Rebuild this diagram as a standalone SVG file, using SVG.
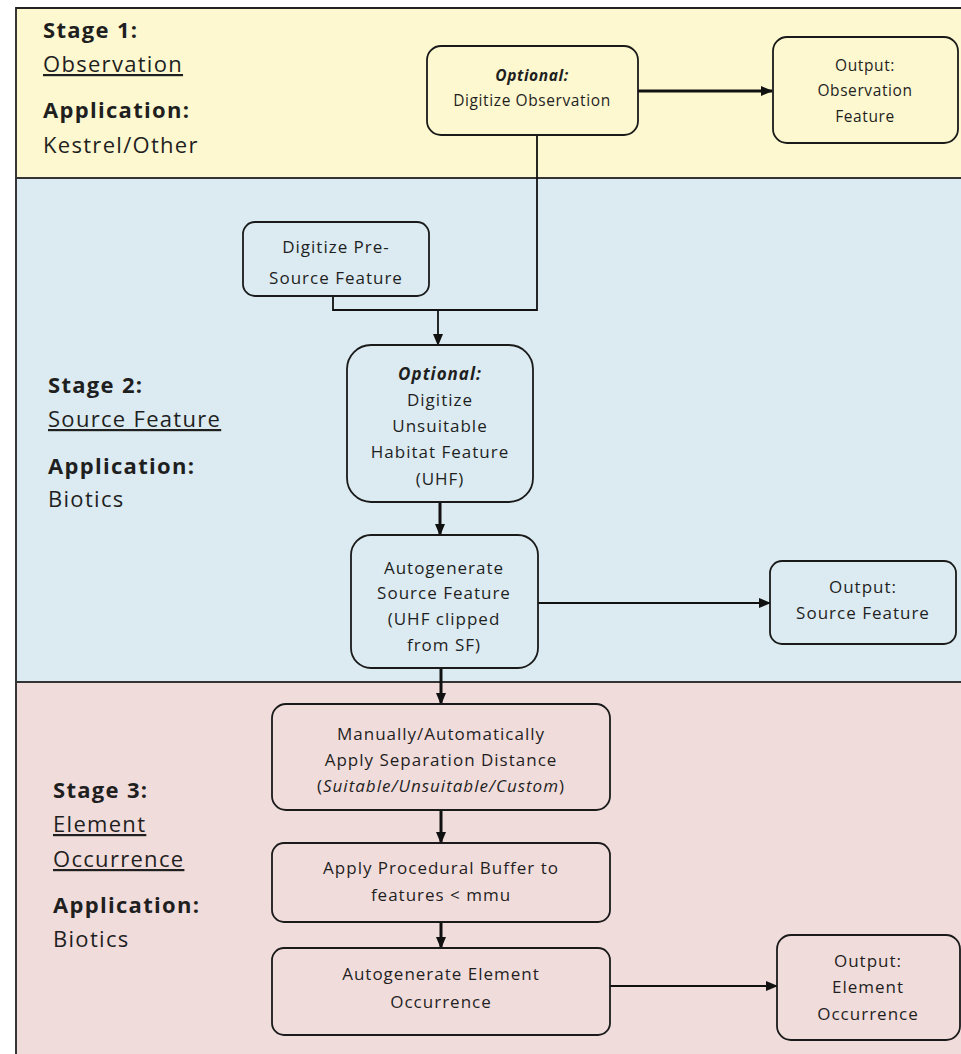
<svg xmlns="http://www.w3.org/2000/svg" width="961" height="1054" viewBox="0 0 961 1054">
<defs>
<style>
.box{stroke:#1a1a1a;stroke-width:1.8}
.s1{fill:#fdf8cf}
.s2{fill:#dbebf1}
.s3{fill:#f1dcdc}
.t{font-family:"Open Sans","Liberation Sans",Arial,sans-serif;font-size:17px;letter-spacing:1px;fill:#1f1f1f;text-anchor:middle}
.t1{font-size:15.5px;letter-spacing:0.6px}
.lab{font-family:"Open Sans","Liberation Sans",Arial,sans-serif;font-size:22px;letter-spacing:1.3px;fill:#1f1f1f}
.b{font-weight:bold}
.i{font-style:italic}
.c{stroke:#111;fill:none}
</style>
<marker id="ah" viewBox="0 0 12 10" refX="11" refY="5" markerWidth="12" markerHeight="10" orient="auto" markerUnits="userSpaceOnUse">
<path d="M0,0 L12,5 L0,10 z" fill="#111"/>
</marker>
</defs>
<rect width="961" height="1054" fill="#ffffff"/>
<g id="bands">
<rect x="16" y="8" width="950" height="170" fill="#fdf8cf"/>
<rect x="16" y="178" width="950" height="504" fill="#dbebf1"/>
<rect x="16" y="682" width="950" height="380" fill="#f1dcdc"/>
<path d="M961,8 H16 V1054" stroke="#222" stroke-width="1.8" fill="none"/>
<line x1="16" y1="178" x2="961" y2="178" stroke="#333" stroke-width="1.8"/>
<line x1="16" y1="682" x2="961" y2="682" stroke="#333" stroke-width="1.8"/>
</g>
<g id="labels">
<text class="lab b" x="43" y="38">Stage 1:</text>
<text class="lab" x="43" y="72" text-decoration="underline">Observation</text>
<text class="lab b" x="43" y="118">Application:</text>
<text class="lab" x="43" y="153">Kestrel/Other</text>
<text class="lab b" x="48" y="393">Stage 2:</text>
<text class="lab" x="48" y="427" text-decoration="underline">Source Feature</text>
<text class="lab b" x="48" y="474">Application:</text>
<text class="lab" x="48" y="507">Biotics</text>
<text class="lab b" x="53" y="798">Stage 3:</text>
<text class="lab" x="53" y="832" text-decoration="underline">Element</text>
<text class="lab" x="53" y="867" text-decoration="underline">Occurrence</text>
<text class="lab b" x="53" y="913">Application:</text>
<text class="lab" x="53" y="947">Biotics</text>
</g>
<g id="connectors">
<line class="c" x1="638" y1="91" x2="772" y2="91" stroke-width="3" marker-end="url(#ah)"/>
<polyline class="c" points="537,135 537,310 333,310 333,296" stroke-width="1.8"/>
<line class="c" x1="438" y1="310" x2="438" y2="345" stroke-width="1.8" marker-end="url(#ah)"/>
<line class="c" x1="440" y1="502" x2="440" y2="535" stroke-width="3" marker-end="url(#ah)"/>
<line class="c" x1="538" y1="603" x2="770" y2="603" stroke-width="1.8" marker-end="url(#ah)"/>
<line class="c" x1="441" y1="668" x2="441" y2="704" stroke-width="3" marker-end="url(#ah)"/>
<line class="c" x1="441" y1="810" x2="441" y2="843" stroke-width="3" marker-end="url(#ah)"/>
<line class="c" x1="441" y1="922" x2="441" y2="948" stroke-width="3" marker-end="url(#ah)"/>
<line class="c" x1="610" y1="986" x2="777" y2="986" stroke-width="1.8" marker-end="url(#ah)"/>
</g>
<g id="n-digitize-obs">
<rect class="box s1" x="427" y="46" width="211" height="89" rx="14"/>
<text class="t t1 i b" x="532" y="81">Optional:</text>
<text class="t t1" x="532" y="106">Digitize Observation</text>
</g>
<g id="n-out-obs">
<rect class="box s1" x="773" y="37" width="185" height="106" rx="14"/>
<text class="t t1" x="865" y="71">Output:</text>
<text class="t t1" x="865" y="96">Observation</text>
<text class="t t1" x="865" y="122">Feature</text>
</g>
<g id="n-presource">
<rect class="box s2" x="243" y="222" width="186" height="74" rx="12"/>
<text class="t" x="336" y="253">Digitize Pre-</text>
<text class="t" x="336" y="284">Source Feature</text>
</g>
<g id="n-uhf">
<rect class="box s2" x="347" y="345" width="186" height="157" rx="24"/>
<text class="t i b" x="440" y="380">Optional:</text>
<text class="t" x="440" y="406">Digitize</text>
<text class="t" x="440" y="432">Unsuitable</text>
<text class="t" x="440" y="458">Habitat Feature</text>
<text class="t" x="440" y="485">(UHF)</text>
</g>
<g id="n-autogen-sf">
<rect class="box s2" x="351" y="535" width="187" height="133" rx="20"/>
<text class="t" x="444" y="574">Autogenerate</text>
<text class="t" x="444" y="599">Source Feature</text>
<text class="t" x="444" y="625">(UHF clipped</text>
<text class="t" x="444" y="651">from SF)</text>
</g>
<g id="n-out-sf">
<rect class="box s2" x="770" y="561" width="186" height="83" rx="12"/>
<text class="t" x="863" y="593">Output:</text>
<text class="t" x="863" y="619">Source Feature</text>
</g>
<g id="n-separation">
<rect class="box s3" x="272" y="704" width="338" height="106" rx="14"/>
<text class="t" x="441" y="740">Manually/Automatically</text>
<text class="t" x="441" y="766">Apply Separation Distance</text>
<text class="t" x="441" y="792">(<tspan font-style="italic">Suitable/Unsuitable/Custom</tspan>)</text>
</g>
<g id="n-buffer">
<rect class="box s3" x="272" y="843" width="338" height="79" rx="12"/>
<text class="t" x="441" y="874">Apply Procedural Buffer to</text>
<text class="t" x="441" y="901">features &lt; mmu</text>
</g>
<g id="n-autogen-eo">
<rect class="box s3" x="272" y="948" width="338" height="87" rx="12"/>
<text class="t" x="441" y="980">Autogenerate Element</text>
<text class="t" x="441" y="1008">Occurrence</text>
</g>
<g id="n-out-eo">
<rect class="box s3" x="777" y="935" width="183" height="105" rx="14"/>
<text class="t" x="868" y="967">Output:</text>
<text class="t" x="868" y="993">Element</text>
<text class="t" x="868" y="1020">Occurrence</text>
</g>
</svg>
